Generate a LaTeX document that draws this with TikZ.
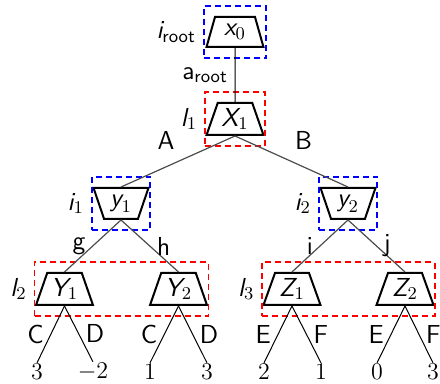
\documentclass[tikz,border=0pt]{standalone}
\usepackage{amsmath}
\usetikzlibrary{shapes.geometric}
\usetikzlibrary{fit}

\newcommand{\lab}[2]{$\textit{\textsf{#1}}_{#2}$}

\tikzset{
  every node/.append style={font=\fontsize{13}{15}\selectfont},
  trap/.style={draw, line width=1pt, trapezium, trapezium stretches=true,
    inner sep=0pt, minimum width=28.5pt, minimum height=16pt,
    trapezium left angle=#1, trapezium right angle=#1},
  trap/.default=68,
  info/.style={draw=#1, dashed, dash pattern=on 3pt off 2pt, line width=0.8pt,
    inner xsep=3pt, inner ysep=5pt},
  act/.style={draw=black!70, line width=0.6pt},
  leaf/.style={draw=black, line width=0.5pt},
}

\begin{document}
\begin{tikzpicture}[x=0.5pt,y=-0.5pt]
\useasboundingbox (0,0) rectangle (440,384);
% decision nodes
\node[trap=73, minimum height=15pt] (x0) at (235,32) {\lab{x}{0}};
\node[trap] (X1) at (235,119) {\lab{X}{1}};
\node[trap=111, minimum width=27.5pt, minimum height=15.5pt] (y1) at (121,203.5) {\lab{y}{1}};
\node[trap=111, minimum width=27.5pt, minimum height=15.5pt] (y2) at (348,203.5) {\lab{y}{2}};
\foreach \n/\t/\k/\x in {Y1/Y/1/64.5, Y2/Y/2/178.5, Z1/Z/1/292, Z2/Z/2/405}
{\node[trap] (\n) at (\x,289) {\lab{\t}{\k}};}
% payoffs
\foreach \n/\x/\v in {a/37/3, b/93/-2, c/150/1, d/207/3, e/264/2, f/321/1, g/377/0, h/433/3}
{\node[inner sep=0.5pt] (\n) at (\x,372) {$\v$};}
% information sets
\node[info=blue, fit=(x0)] (Iroot) {};
\node[info=red, fit=(X1)] (I1) {};
\node[info=blue, fit=(y1)] (Ii1) {};
\node[info=blue, fit=(y2)] (Ii2) {};
\node[info=red, fit=(Y1) (Y2)] (I2) {};
\node[info=red, fit=(Z1) (Z2)] (I3) {};
\node[left] at (Iroot.west) {$\textit{\textsf{i}}_{\textsf{root}}$};
\node[left] at (I1.west) {\lab{l}{1}};
\node[left] at (Ii1.west) {\lab{i}{1}};
\node[left] at (Ii2.west) {\lab{i}{2}};
\node[left] at (I2.west) {\lab{l}{2}};
\node[left] at (I3.west) {\lab{l}{3}};
% actions
\draw[leaf] (x0.south) -- node[left] {$\textsf{a}_{\textsf{root}}$} (X1.north);
\draw[act] (X1.south) -- node[above left=1pt, pos=.45] {\textsf{A}} (y1.north);
\draw[act] (X1.south) -- node[above right=1pt, pos=.45] {\textsf{B}} (y2.north);
\draw[act] (y1.south) -- node[left] {\textsf{g}} (Y1.north);
\draw[act] (y1.south) -- node[right] {\textsf{h}} (Y2.north);
\draw[act] (y2.south) -- node[left] {\textsf{i}} (Z1.north);
\draw[act] (y2.south) -- node[right] {\textsf{j}} (Z2.north);
\foreach \p/\l/\r/\u/\v in {Y1/a/b/C/D, Y2/c/d/C/D, Z1/e/f/E/F, Z2/g/h/E/F}
{\draw[leaf] (\p.south) -- node[left] {\textsf{\u}} (\l.north);
 \draw[leaf] (\p.south) -- node[right] {\textsf{\v}} (\r.north);}
\end{tikzpicture}
\end{document}
